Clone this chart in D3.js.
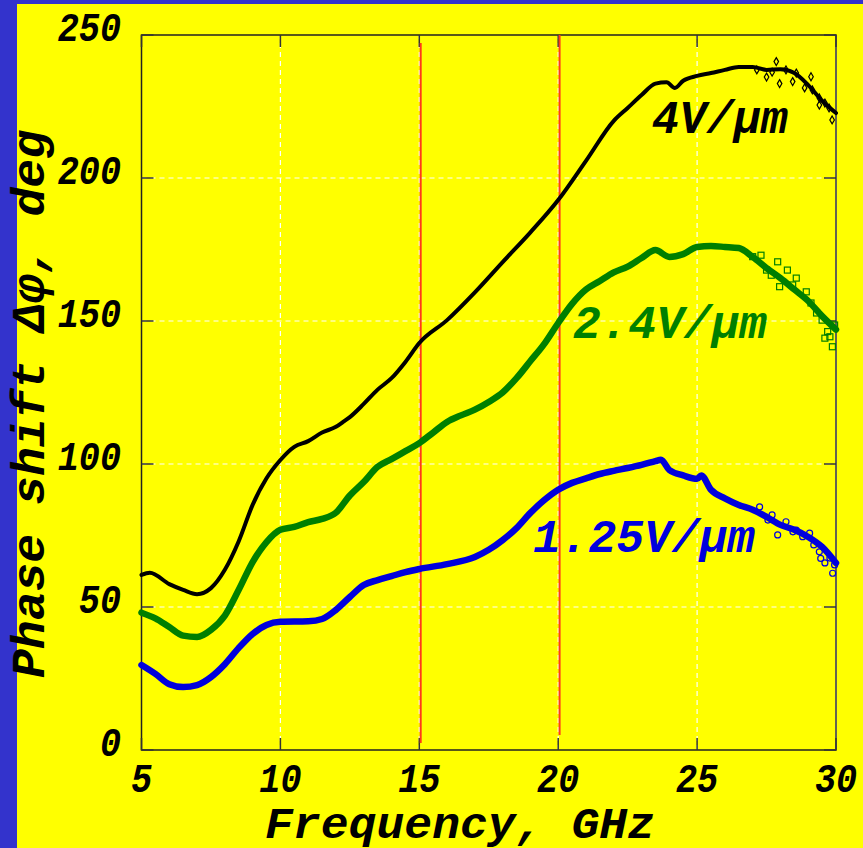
<!DOCTYPE html>
<html><head><meta charset="utf-8">
<script src="https://cdn.jsdelivr.net/npm/d3@7"></script>
<style>html,body{margin:0;padding:0;background:#3333cc;}svg{display:block;}</style>
</head><body>
<script>
// ---- data ----
const xTicks = [5, 10, 15, 20, 25, 30];
const yTicks = [0, 50, 100, 150, 200, 250];
const redLines = [15.05, 20.05];

const freq4 = [5,5.3,6,6.5,7,7.5,8,8.5,9,9.5,10,10.5,11,11.5,12,12.3,12.5,13,13.5,14,14.5,15,16,17,18,19,20,21,22,22.5,23,23.5,23.9,24.2,24.5,25,25.5,26,26.5,27,27.5,28,28.5,29,29.5,30];
const val4  = [61.2,62,58,56,54.5,56.6,63,73,85.7,95,101.4,106,108,111,113,115,116.4,121,126,130,135.7,142.3,150.3,160,170.6,181,192.3,206,220,224.5,229,233,233.5,231.5,234,235.7,236.7,237.8,238.8,238.8,237.8,238,236.7,232.5,227,222.7];
const tail4f = [27.15,27.5,27.7,27.85,27.97,28.2,28.44,28.57,28.87,29.1,29.15,29.4,29.4,29.6,29.75,29.86];
const tail4v = [237.8,235.3,237,240.7,233,237.8,233.7,236.7,231.5,235.4,230.8,228,225.5,226.2,224.5,220.3];

const freq24 = [5,5.5,6,6.5,7,7.5,8,8.5,9,9.5,10,10.5,11,11.5,12,12.5,13,13.5,14,14.5,15,15.5,16,16.5,17,17.5,18,18.5,19,19.5,20,20.5,21,21.5,22,22.5,23,23.5,24,24.5,25,25.5,26,26.5,27,27.5,28,28.5,29,29.5,30];
const val24  = [48,46,43,40,39.5,42,47,56,65.7,72.7,77,78,79.7,80.8,83,89,93.7,99,101.7,104.5,107.3,111,114.7,117,119,121.7,125,130,136,142,149.3,156,161,164,167,169,172,174.8,172.4,173.4,175.9,176.2,175.9,175.5,172.4,168.5,165,161,157,151.7,147];
const tail24f = [27.0,27.3,27.5,27.67,27.9,27.97,28.25,28.44,28.57,28.93,29.1,29.3,29.5,29.6,29.7,29.78,29.87,29.95];
const tail24v = [172.5,173,167.8,166,170.7,162,167.8,162.6,165,160.2,156.3,152.8,150.3,144,146.3,144.5,141,148.6];

const freq125 = [5,5.5,6,6.5,7,7.5,8,8.5,9,9.5,10,11,11.5,12,12.5,13,13.5,14,14.5,15,16,17,17.5,18,18.5,19,19.5,20,20.5,21,21.5,22,22.5,23,23.5,23.7,24,24.5,25,25.15,25.5,26,26.5,27,27.5,28,28.5,29,29.5,30];
const val125  = [29.7,26.6,23,22,22.7,25.5,30,35.7,40.6,43.7,44.8,45,45.8,49,53.5,57.7,59.4,60.8,62.2,63.3,65,67.5,70,73.4,77.6,82.9,87.4,91,93.4,95,96.5,97.6,98.6,99.7,101,101.5,97.9,96,94.8,96,91,88,85.7,84,81.5,78.7,77,74.5,71,65.4];
const tail125f = [27.25,27.55,27.7,27.9,28.2,28.45,28.57,28.8,29.05,29.2,29.4,29.45,29.6,29.78,29.88,29.95];
const tail125v = [85,80.4,82.2,75.2,79.8,76.3,76.9,74.6,75.8,71.7,69.3,67,65.4,67.1,61.8,64.7];

const labels = ["4V/\u03bcm", "2.4V/\u03bcm", "1.25V/\u03bcm"];
const xTitle = "Frequency, GHz";
const yTitle = "Phase shift \u0394\u03c6, deg";

// ---- layout ----
const W = 863, H = 848;
const svg = d3.select("body").append("svg").attr("width", W).attr("height", H);
svg.append("rect").attr("x",0).attr("y",0).attr("width",W).attr("height",H).attr("fill","#3333cc");
svg.append("rect").attr("x",17).attr("y",4).attr("width",W-17).attr("height",H-4).attr("fill","#ffff00");

const L = 141.5, R = 836, T = 35, B = 750;
const x = d3.scaleLinear().domain([5,30]).range([L,R]);
const y = d3.scaleLinear().domain([0,250]).range([B,T]);
const font = "'Liberation Mono', 'Courier New', monospace";

// grid
const g = svg.append("g");
g.selectAll(".gx").data(xTicks.slice(1,-1)).enter().append("line")
  .attr("x1",d=>x(d)).attr("x2",d=>x(d)).attr("y1",B).attr("y2",T)
  .attr("stroke","#ffffff").attr("stroke-width",1.2).attr("stroke-dasharray","5,4");
g.selectAll(".gy").data(yTicks.slice(1,-1)).enter().append("line")
  .attr("x1",L).attr("x2",R).attr("y1",d=>y(d)).attr("y2",d=>y(d))
  .attr("stroke","#ffffff").attr("stroke-width",1.2).attr("stroke-dasharray","5,4");

// frame
svg.append("path").attr("d",`M${L},${T}H${R}V${B}H${L}Z`).attr("fill","none").attr("stroke","#222").attr("stroke-width",1.5);
svg.append("line").attr("x1",R).attr("x2",R).attr("y1",T).attr("y2",B).attr("stroke","#666").attr("stroke-width",1.5);

// ticks (inward, mirrored)
const tk = 12;
svg.selectAll(".tb").data(xTicks).enter().append("line")
  .attr("x1",d=>x(d)).attr("x2",d=>x(d)).attr("y1",B).attr("y2",B-tk).attr("stroke","#333").attr("stroke-width",1.5);
svg.selectAll(".tt").data(xTicks).enter().append("line")
  .attr("x1",d=>x(d)).attr("x2",d=>x(d)).attr("y1",T).attr("y2",T+tk).attr("stroke","#333").attr("stroke-width",1.5);
svg.selectAll(".tl").data(yTicks).enter().append("line")
  .attr("x1",L).attr("x2",L+tk).attr("y1",d=>y(d)).attr("y2",d=>y(d)).attr("stroke","#333").attr("stroke-width",1.5);
svg.selectAll(".tr").data(yTicks).enter().append("line")
  .attr("x1",R).attr("x2",R-tk).attr("y1",d=>y(d)).attr("y2",d=>y(d)).attr("stroke","#333").attr("stroke-width",1.5);

// tick labels (slightly condensed)
svg.selectAll(".xl").data(xTicks).enter().append("text")
  .attr("transform",d=>`translate(${x(d)},792) scale(0.88,1)`).attr("text-anchor","middle")
  .attr("font-family",font).attr("font-weight","bold").attr("font-style","italic").attr("font-size",40)
  .attr("fill","#000").text(d=>d);
svg.selectAll(".yl").data(yTicks).enter().append("text")
  .attr("transform",d=>`translate(121,${y(d)+6}) scale(0.88,1)`).attr("text-anchor","end")
  .attr("font-family",font).attr("font-weight","bold").attr("font-style","italic").attr("font-size",40)
  .attr("fill","#000").text(d=>d);

// red lines
const redTop = [43, 35], redBot = [743, 735];
svg.selectAll(".red").data(redLines).enter().append("line")
  .attr("x1",d=>x(d)).attr("x2",d=>x(d)).attr("y1",(d,i)=>redTop[i]).attr("y2",(d,i)=>redBot[i])
  .attr("stroke","#ff3a1a").attr("stroke-width",2);

// curves
const line = d3.line().x(d=>x(d[0])).y(d=>y(d[1])).curve(d3.curveMonotoneX);
function series(fs, vs, color, w) {
  const pts = fs.map((f,i)=>[f, vs[i]]);
  svg.append("path").datum(pts).attr("d",line).attr("fill","none")
    .attr("stroke",color).attr("stroke-width",w).attr("stroke-linejoin","round").attr("stroke-linecap","round");
}
series(freq4, val4, "#000000", 4);
series(freq24, val24, "#007f00", 6.5);
series(freq125, val125, "#0000dd", 6.5);

// tail markers
const t4 = tail4f.map((f,i)=>[f,tail4v[i]]);
svg.selectAll(".m4").data(t4).enter().append("path")
  .attr("d",d3.symbol().type(d3.symbolDiamond).size(18))
  .attr("transform",d=>`translate(${x(d[0])},${y(d[1])})`)
  .attr("fill","none").attr("stroke","#000").attr("stroke-width",1.2);
const t24 = tail24f.map((f,i)=>[f,tail24v[i]]);
svg.selectAll(".m24").data(t24).enter().append("rect")
  .attr("x",d=>x(d[0])-3).attr("y",d=>y(d[1])-3).attr("width",6).attr("height",6)
  .attr("fill","none").attr("stroke","#007f00").attr("stroke-width",1.2);
const t125 = tail125f.map((f,i)=>[f,tail125v[i]]);
svg.selectAll(".m125").data(t125).enter().append("circle")
  .attr("cx",d=>x(d[0])).attr("cy",d=>y(d[1])).attr("r",3)
  .attr("fill","none").attr("stroke","#0000dd").attr("stroke-width",1.2);

// series labels
const labPos = [[652,133,136,"#000000"],[573,338,194,"#007f00"],[533,552,222,"#0000dd"]];
labels.forEach((t,i)=>{
  svg.append("text").attr("x",labPos[i][0]).attr("y",labPos[i][1])
    .attr("font-family",font).attr("font-weight","bold").attr("font-style","italic").attr("font-size",46)
    .attr("textLength",labPos[i][2]).attr("lengthAdjust","spacingAndGlyphs")
    .attr("fill",labPos[i][3]).text(t);
});

// axis titles
svg.append("text").attr("x",265).attr("y",838)
  .attr("font-family",font).attr("font-weight","bold").attr("font-style","italic").attr("font-size",44)
  .attr("textLength",390).attr("lengthAdjust","spacingAndGlyphs").attr("fill","#000").text(xTitle);
svg.append("text").attr("transform","translate(44,678) rotate(-90)")
  .attr("font-family",font).attr("font-weight","bold").attr("font-style","italic").attr("font-size",46)
  .attr("textLength",548).attr("lengthAdjust","spacingAndGlyphs").attr("fill","#000").text(yTitle);
</script>
</body></html>
